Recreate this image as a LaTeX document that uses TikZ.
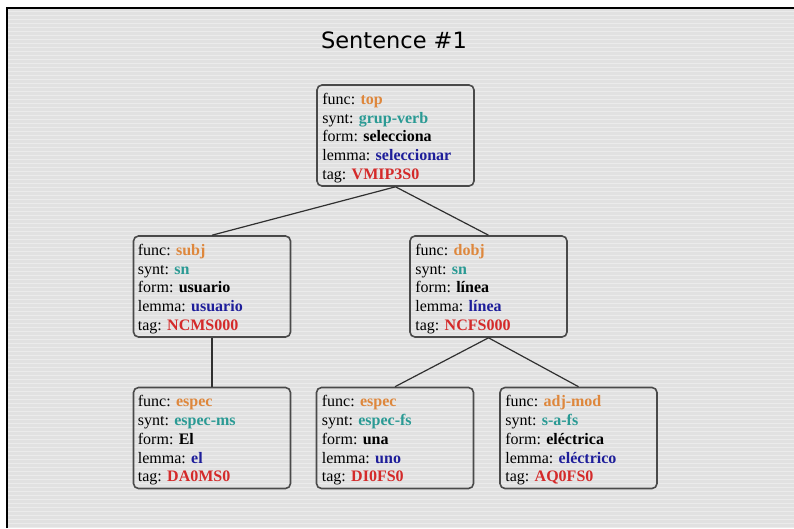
\documentclass[tikz,border=0pt]{standalone}
\usepackage{fontspec}
\setmainfont{Liberation Serif}
\newfontfamily\titlefont{DejaVu Sans}

\definecolor{bgc}{HTML}{E1E1E1}
\definecolor{stripec}{HTML}{EBEBEB}
\definecolor{boxline}{HTML}{4A4A4A}
\definecolor{linkc}{HTML}{303030}
\definecolor{funcc}{HTML}{DE873C}
\definecolor{syntc}{HTML}{2A9A94}
\definecolor{lemmac}{HTML}{1E1E9A}
\definecolor{tagc}{HTML}{D42A2A}

% five attribute lines of one tree node
\newcommand{\attrlist}[5]{\parbox[t]{148pt}{\fontsize{16}{18.8}\selectfont
func: \textbf{\color{funcc}#1}\\
synt: \textbf{\color{syntc}#2}\\
form: \textbf{#3}\\
lemma: \textbf{\color{lemmac}#4}\\
tag: \textbf{\color{tagc}#5}}}

\begin{document}
\begin{tikzpicture}[x=1pt,y=-1pt,
  box/.style={draw=boxline, line width=1.6pt, rounded corners=5pt,
              minimum width=157pt, minimum height=101pt, inner sep=0pt},
  link/.style={draw=linkc, line width=1.2pt},
  fields/.style={anchor=base west, inner sep=0pt}]

\useasboundingbox (0,0) rectangle (794,528);
\fill[white] (0,0) rectangle (794,528);
\fill[bgc] (7,8) rectangle (794,528);
\foreach \yy in {11,15,...,527} {\draw[stripec, line width=0.9pt] (8,\yy) -- (794,\yy);}
\draw[black, line width=2.6pt] (7,528) -- (7,8) -- (794,8);

% title
\node[anchor=base, inner sep=0pt, font=\titlefont\fontsize{22.5}{25}\selectfont] (title) at (394,48.5) {Sentence \#1};

% boxes
\node[box] (top)    at (395.5,135.5) {};
\node[box] (subj)   at (212,286.5) {};
\node[box] (dobj)   at (488.5,286.5) {};
\node[box] (espm)   at (212,438) {};
\node[box] (espf)   at (395,438) {};
\node[box] (adjm)   at (578.5,438) {};

% connectors
\draw[link] (top.south) -- (subj.north);
\draw[link] (top.south) -- (dobj.north);
\draw[link] (subj.south) -- (espm.north);
\draw[link] (dobj.south) -- (espf.north);
\draw[link] (dobj.south) -- (adjm.north);

% attribute texts
\node[fields] (topf)  at ([xshift=6pt,yshift=-20pt]top.north west)  {\attrlist{top}{grup-verb}{selecciona}{seleccionar}{VMIP3S0}};
\node[fields] (subjf) at ([xshift=5pt,yshift=-20pt]subj.north west) {\attrlist{subj}{sn}{usuario}{usuario}{NCMS000}};
\node[fields] (dobjf) at ([xshift=6pt,yshift=-20pt]dobj.north west) {\attrlist{dobj}{sn}{línea}{línea}{NCFS000}};
\node[fields] (espmf) at ([xshift=5pt,yshift=-20pt]espm.north west) {\attrlist{espec}{espec-ms}{El}{el}{DA0MS0}};
\node[fields] (espff) at ([xshift=6pt,yshift=-20pt]espf.north west) {\attrlist{espec}{espec-fs}{una}{uno}{DI0FS0}};
\node[fields] (adjmf) at ([xshift=6pt,yshift=-20pt]adjm.north west) {\attrlist{adj-mod}{s-a-fs}{eléctrica}{eléctrico}{AQ0FS0}};
\end{tikzpicture}
\end{document}
